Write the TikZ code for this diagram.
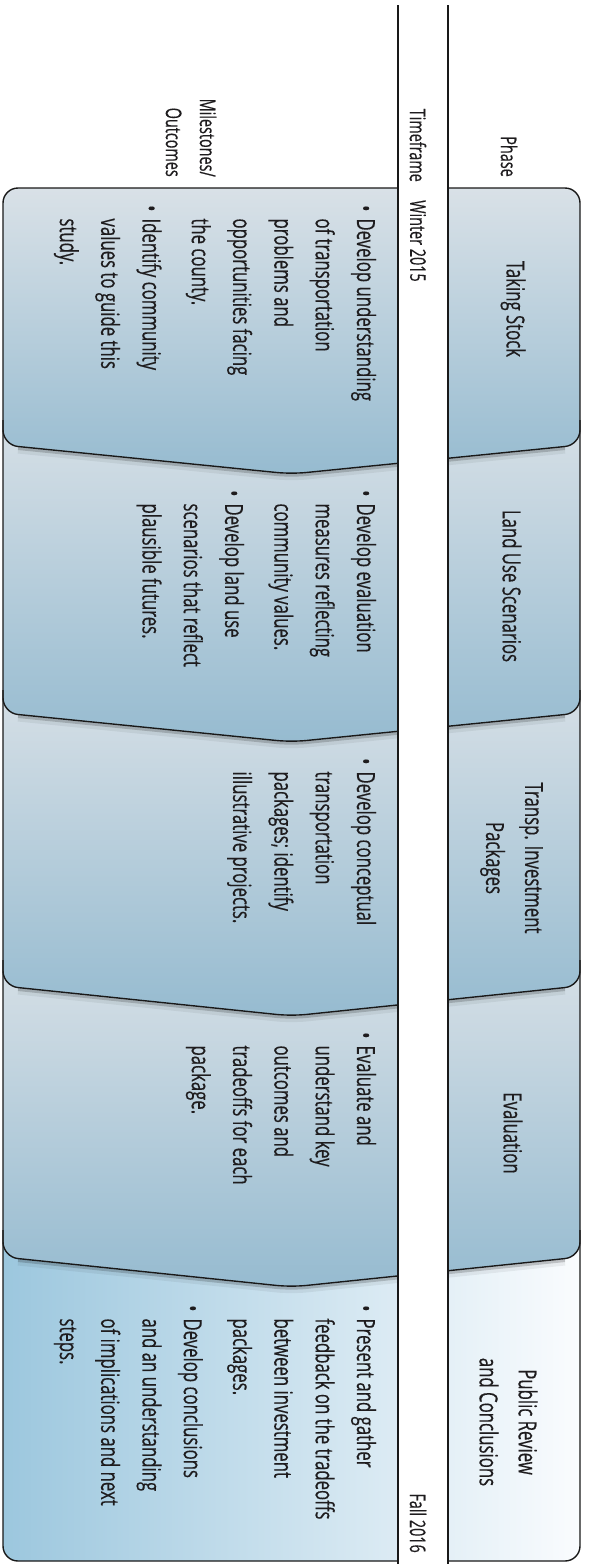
\documentclass[tikz,border=0pt]{standalone}
\usepackage{fontspec}
\setmainfont{Open Sans}[FakeStretch=0.67,FakeBold=0.35]
\definecolor{phtop}{RGB}{217,225,231}
\definecolor{phbot}{RGB}{150,187,208}
\definecolor{lastL}{RGB}{156,199,222}
\definecolor{lastR}{RGB}{250,252,254}
\definecolor{ink}{RGB}{30,28,30}
\begin{document}
\begin{tikzpicture}[x=1pt,y=-1pt,line join=round,
  edge/.style={line width=1.4pt,draw=black!90},
  shad/.style={draw=black,line width=3pt,opacity=0.18,rounded corners=15pt,shift={(0,2)}},
  shad2/.style={draw=black,line width=6pt,opacity=0.06,rounded corners=15pt,shift={(0,4)}},
  phfill/.style={top color=phtop,bottom color=phbot,rounded corners=15pt},
  hdr/.style={rotate=-90,inner sep=0pt,text=ink,font=\fontsize{21.5}{34}\selectfont},
  phname/.style={rotate=-90,inner sep=0pt,text=ink,align=center,font=\fontsize{25}{39}\selectfont},
  body/.style={rotate=-90,inner sep=0pt,text=ink,anchor=base west,font=\fontsize{25}{41.3}\selectfont}]
\useasboundingbox (0,0) rectangle (589,1564);
% last phase background
\shade[left color=lastL,right color=lastR,rounded corners=15pt] (3,188) rectangle (580,1561);
% phase 4
\shade[phfill] (3,946) -- (3,1257) -- (291.5,1287) -- (580,1257) -- (580,946) -- cycle;
\draw[shad2] (18,1258.5) -- (291.5,1287) -- (565,1258.5);
\draw[shad] (18,1258.5) -- (291.5,1287) -- (565,1258.5);
\draw[edge,rounded corners=15pt] (3,1230) -- (3,1257) -- (291.5,1287) -- (580,1257) -- (580,1230);
% phase 3
\shade[phfill] (3,673) -- (3,986) -- (291.5,1016) -- (580,986) -- (580,673) -- cycle;
\draw[shad2] (18,987.5) -- (291.5,1016) -- (565,987.5);
\draw[shad] (18,987.5) -- (291.5,1016) -- (565,987.5);
\draw[edge,rounded corners=15pt] (3,960) -- (3,986) -- (291.5,1016) -- (580,986) -- (580,960);
% phase 2
\shade[phfill] (3,405) -- (3,713) -- (291.5,742) -- (580,713) -- (580,405) -- cycle;
\draw[shad2] (18,714.5) -- (291.5,742) -- (565,714.5);
\draw[shad] (18,714.5) -- (291.5,742) -- (565,714.5);
\draw[edge,rounded corners=15pt] (3,690) -- (3,713) -- (291.5,742) -- (580,713) -- (580,690);
% phase 1
\shade[phfill] (3,188) -- (3,445) -- (291.5,474) -- (580,445) -- (580,188) -- cycle;
\draw[shad2] (18,446.5) -- (291.5,474) -- (565,446.5);
\draw[shad] (18,446.5) -- (291.5,474) -- (565,446.5);
\draw[edge,rounded corners=15pt] (3,420) -- (3,445) -- (291.5,474) -- (580,445) -- (580,420);
% outer box
\draw[edge,rounded corners=15pt] (3,188) rectangle (580,1561);
% timeframe band
\fill[white] (398,5) rectangle (448,1564);
\draw[edge] (398,5) -- (398,1564);
\draw[edge] (448,5) -- (448,1564);
% headers
\node[hdr,anchor=east] (hphase) at (509,177) {Phase};
\node[hdr,anchor=east] (htime) at (418,182) {Timeframe};
\node[hdr,anchor=east,align=right] (hmile) at (191,177) {Milestones/\\Outcomes};
\node[hdr,anchor=west] (tstart) at (418,200) {Winter 2015};
\node[hdr,anchor=east] (tend) at (418,1553) {Fall 2016};
% phase names
\node[phname] (n1) at (513,309) {Taking Stock};
\node[phname] (n2) at (512,586) {Land Use Scenarios};
\node[phname] (n3) at (511.5,858) {Transp. Investment\\Packages};
\node[phname] (n4) at (513,1133) {Evaluation};
\node[phname] (n5) at (508.5,1422) {Public Review\\and Conclusions};
% milestones
\node[body] (m1) at (357,205) {\begin{tabular}[t]{@{}l@{\hspace{7pt}}l@{}}
\textbullet & Develop understanding\\
 & of transportation\\
 & problems and\\
 & opportunities facing\\
 & the county.\\[8pt]
\textbullet & Identify community\\
 & values to guide this\\
 & study.
\end{tabular}};
\node[body] (m2) at (357,490) {\begin{tabular}[t]{@{}l@{\hspace{7pt}}l@{}}
\textbullet & Develop evaluation\\
 & measures reflecting\\
 & community values.\\[8pt]
\textbullet & Develop land use\\
 & scenarios that reflect\\
 & plausible futures.
\end{tabular}};
\node[body] (m3) at (357,758) {\begin{tabular}[t]{@{}l@{\hspace{7pt}}l@{}}
\textbullet & Develop conceptual\\
 & transportation\\
 & packages; identify\\
 & illustrative projects.
\end{tabular}};
\node[body] (m4) at (357,1032) {\begin{tabular}[t]{@{}l@{\hspace{7pt}}l@{}}
\textbullet & Evaluate and\\
 & understand key\\
 & outcomes and\\
 & tradeoffs for each\\
 & package.
\end{tabular}};
\node[body] (m5) at (357,1305) {\begin{tabular}[t]{@{}l@{\hspace{7pt}}l@{}}
\textbullet & Present and gather\\
 & feedback on the tradeoffs\\
 & between investment\\
 & packages.\\[8pt]
\textbullet & Develop conclusions\\
 & and an understanding\\
 & of implications and next\\
 & steps.
\end{tabular}};
\end{tikzpicture}
\end{document}
